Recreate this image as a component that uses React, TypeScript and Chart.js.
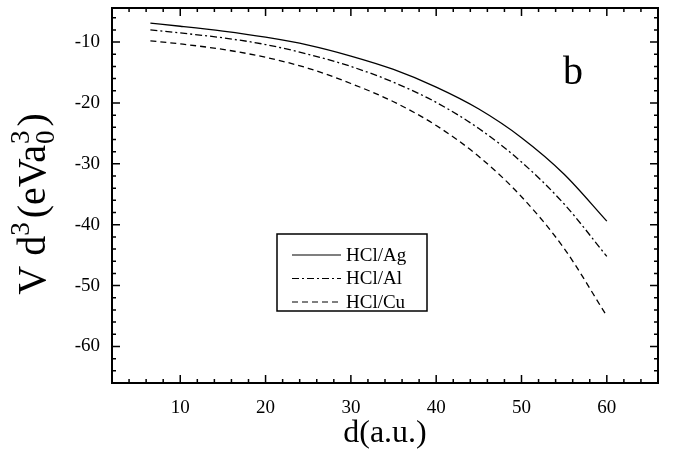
import React, { useEffect, useRef } from "react";
import { Chart, registerables } from "chart.js";

Chart.register(...registerables);

const dValues = [6.5, 10, 15, 20, 25, 30, 35, 40, 45, 50, 55, 60];
const agValues = [-6.9, -7.4, -8.2, -9.2, -10.5, -12.3, -14.5, -17.4, -21.0, -25.7, -31.7, -39.4];
const alValues = [-8.0, -8.5, -9.3, -10.4, -12.0, -14.0, -16.6, -19.9, -24.2, -29.7, -36.6, -45.2];
const cuValues = [-9.8, -10.3, -11.2, -12.5, -14.3, -16.8, -19.8, -23.7, -28.8, -35.4, -43.9, -55.0];
const seriesLabels = ["HCl/Ag", "HCl/Al", "HCl/Cu"];
const xTicks = [10, 20, 30, 40, 50, 60];
const yTicks = [-10, -20, -30, -40, -50, -60];

const SERIF = "'Liberation Serif', 'DejaVu Serif', serif";
const dashes = [[], [7, 3, 2, 3], [6, 4]];

export default function App() {
  const ref = useRef<HTMLCanvasElement | null>(null);
  useEffect(() => {
    document.body.style.margin = "0";
    const canvas = ref.current!;
    const toPts = (vals: number[]) => dValues.map((d, i) => ({ x: d, y: vals[i] }));
    const all = [agValues, alValues, cuValues];

    const decor = {
      id: "decor",
      afterDraw(chart: any) {
        const ctx = chart.ctx;
        const a = chart.chartArea;
        const xs = chart.scales.x;
        const ys = chart.scales.y;
        ctx.save();
        ctx.strokeStyle = "#000";
        ctx.lineWidth = 2;
        ctx.strokeRect(a.left, a.top, a.right - a.left, a.bottom - a.top);
        ctx.lineWidth = 1.5;
        for (let v = 2; v <= 66; v += 2) {
          const px = xs.getPixelForValue(v);
          const len = v % 10 === 0 ? 8 : 4;
          ctx.beginPath();
          ctx.moveTo(px, a.bottom);
          ctx.lineTo(px, a.bottom - len);
          ctx.moveTo(px, a.top);
          ctx.lineTo(px, a.top + len);
          ctx.stroke();
        }
        for (let v = -64; v <= -6; v += 2) {
          const py = ys.getPixelForValue(v);
          const len = v % 10 === 0 ? 8 : 4;
          ctx.beginPath();
          ctx.moveTo(a.left, py);
          ctx.lineTo(a.left + len, py);
          ctx.moveTo(a.right, py);
          ctx.lineTo(a.right - len, py);
          ctx.stroke();
        }
        ctx.fillStyle = "#000";
        ctx.font = `40px ${SERIF}`;
        ctx.textAlign = "center";
        ctx.textBaseline = "alphabetic";
        ctx.fillText("b", 573, 84);
        ctx.font = `32px ${SERIF}`;
        ctx.fillText("d(a.u.)", (a.left + a.right) / 2, 442);
        // y title
        ctx.save();
        ctx.translate(45, 204);
        ctx.rotate(-Math.PI / 2);
        const big = `40px ${SERIF}`;
        const small = `27px ${SERIF}`;
        const pieces: any[] = [
          { t: "V d", f: big, dy: 0 },
          { t: "3", f: small, dy: -16 },
          { t: "(eVa", f: big, dy: 0, gapBefore: 4 },
          { stack: true },
          { t: ")", f: big, dy: 0, gapBefore: 3 },
        ];
        const widths: number[] = [];
        pieces.forEach((p) => {
          if (p.stack) {
            ctx.font = small;
            widths.push(ctx.measureText("3").width + 2);
          } else {
            ctx.font = p.f;
            widths.push(ctx.measureText(p.t).width + (p.gapBefore || 0));
          }
        });
        const total = widths.reduce((s, w) => s + w, 0);
        let cx = -total / 2;
        ctx.textAlign = "left";
        pieces.forEach((p, i) => {
          if (p.stack) {
            ctx.font = small;
            ctx.fillText("3", cx + 1, -16);
            ctx.fillText("0", cx + 1, 9);
          } else {
            ctx.font = p.f;
            ctx.fillText(p.t, cx + (p.gapBefore || 0), p.dy);
          }
          cx += widths[i];
        });
        ctx.restore();
        // legend
        const bx = 277, by = 234, bw = 150, bh = 77;
        ctx.lineWidth = 1.5;
        ctx.strokeRect(bx, by, bw, bh);
        ctx.font = `19px ${SERIF}`;
        ctx.textBaseline = "middle";
        ctx.textAlign = "left";
        chart.data.datasets.forEach((ds: any, i: number) => {
          const yy = by + 21 + i * 23.5;
          ctx.lineWidth = 1.2;
          ctx.setLineDash(dashes[i]);
          ctx.beginPath();
          ctx.moveTo(292, yy);
          ctx.lineTo(341, yy);
          ctx.stroke();
          ctx.setLineDash([]);
          ctx.fillText(ds.label, 346, yy + 1);
        });
        ctx.restore();
      },
    };

    const chart = new Chart(canvas, {
      type: "line",
      data: {
        datasets: all.map((vals, i) => ({
          label: seriesLabels[i],
          data: toPts(vals),
          borderColor: "#000",
          borderWidth: 1.3,
          borderDash: dashes[i],
          pointRadius: 0,
          cubicInterpolationMode: "monotone" as const,
          fill: false,
        })),
      },
      options: {
        responsive: false,
        animation: false,
        layout: { padding: { top: 8, right: 17, left: 0, bottom: 0 } },
        plugins: { legend: { display: false }, tooltip: { enabled: false } },
        scales: {
          x: {
            type: "linear",
            min: 2,
            max: 66,
            grid: { display: false, drawTicks: false },
            border: { display: false },
            afterBuildTicks: (s: any) => {
              s.ticks = xTicks.map((v) => ({ value: v }));
            },
            afterFit: (s: any) => {
              s.height = 72;
              s.paddingLeft = 0;
              s.paddingRight = 0;
            },
            ticks: {
              color: "#000",
              font: { family: SERIF, size: 19 },
              padding: 14,
              maxRotation: 0,
            },
          },
          y: {
            type: "linear",
            min: -66,
            max: -4.4,
            grid: { display: false, drawTicks: false },
            border: { display: false },
            afterBuildTicks: (s: any) => {
              s.ticks = yTicks.map((v) => ({ value: v }));
            },
            afterFit: (s: any) => {
              s.width = 112;
              s.paddingTop = 0;
              s.paddingBottom = 0;
            },
            ticks: {
              color: "#000",
              font: { family: SERIF, size: 19 },
              padding: 12,
            },
          },
        },
      },
      plugins: [decor],
    });
    return () => chart.destroy();
  }, []);
  return (
    <div style={{ width: 675, height: 455, background: "#fff" }}>
      <canvas ref={ref} width={675} height={455} style={{ display: "block" }} />
    </div>
  );
}
